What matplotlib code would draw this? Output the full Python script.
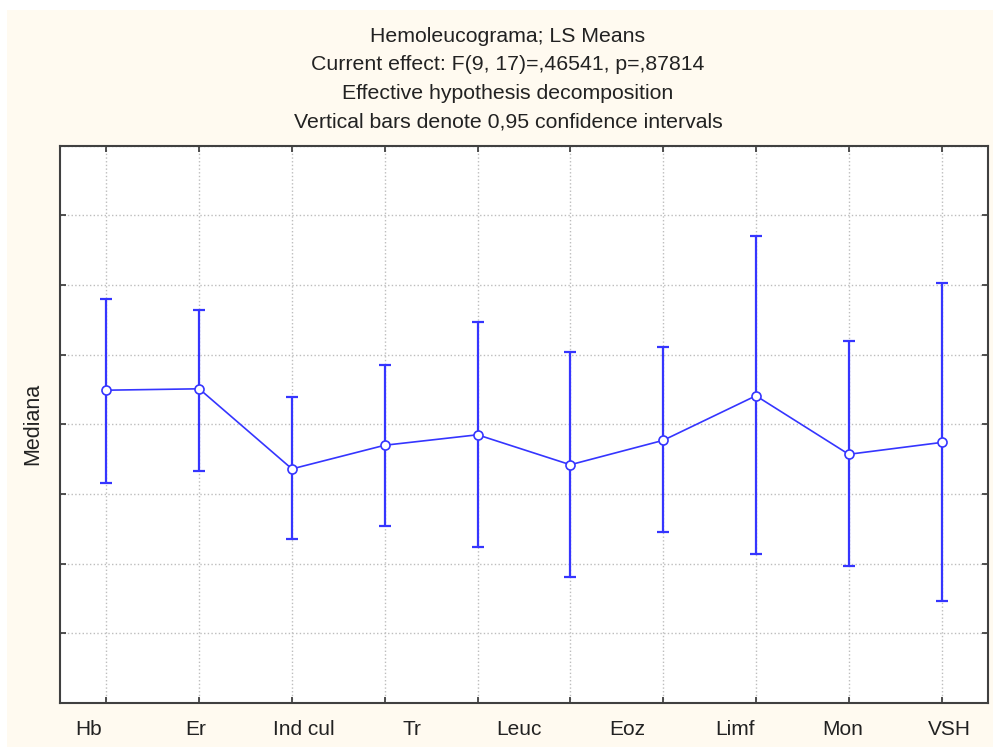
import matplotlib
matplotlib.use('Agg')
import matplotlib.pyplot as plt
import numpy as np
from matplotlib.patches import Rectangle

plt.rcParams['font.family'] = ['Liberation Sans', 'DejaVu Sans']

# 10 levels in the effect, 9 names printed under the axis
level_means = [4.49, 4.51, 3.36, 3.70, 3.85, 3.42, 3.77, 4.41, 3.57, 3.74]
ci_upper = [5.80, 5.64, 4.39, 4.85, 5.47, 5.04, 5.11, 6.70, 5.19, 6.03]
ci_lower = [3.16, 3.33, 2.35, 2.54, 2.24, 1.81, 2.45, 2.14, 1.96, 1.46]
x_labels = ["Hb", "Er", "Ind cul", "Tr", "Leuc", "Eoz", "Limf", "Mon", "VSH"]
title_lines = ["Hemoleucograma; LS Means",
               "Current effect: F(9, 17)=,46541, p=,87814",
               "Effective hypothesis decomposition",
               "Vertical bars denote 0,95 confidence intervals"]

BLUE = '#3535ff'

fig = plt.figure(figsize=(9.93, 7.47), dpi=100)
fig.patch.set_facecolor('white')
fig.patches.append(Rectangle((0.007, 0), 0.993, 0.9866, transform=fig.transFigure,
                             facecolor='#fffaf0', edgecolor='none', zorder=-10))

ax = fig.add_axes([0.0604, 0.0589, 0.9345, 0.7461])
ax.set_facecolor('white')

x = np.arange(len(level_means))
means = np.array(level_means)
yerr = [means - np.array(ci_lower), np.array(ci_upper) - means]

ax.errorbar(x, means, yerr=yerr, fmt='none', ecolor=BLUE, elinewidth=1.6,
            capsize=4, capthick=1.6, zorder=3)
ax.plot(x, means, color=BLUE, lw=1.2, marker='o', markersize=6.5,
        markerfacecolor='white', markeredgecolor=BLUE, markeredgewidth=1.2, zorder=4)

ax.set_xlim(-0.5, len(x) - 0.5)
ax.set_ylim(0, 8)
ax.set_xticks(x)
ax.set_xticklabels([])
ax.set_yticks(np.arange(0, 9))
ax.set_yticklabels([])

# names spread evenly under the axis (as the original program does)
label_pos = np.linspace(-0.194, 9.09, len(x_labels))
ax.set_xticks(label_pos, minor=True)
ax.set_xticklabels(x_labels, minor=True, fontsize=15, color='#222222')
ax.tick_params(axis='x', which='minor', length=0, pad=12)

ax.tick_params(axis='both', which='major', direction='in', length=4, width=1.2,
               color='#333333', top=True, right=True)
ax.grid(True, which='major', linestyle=':', color='#bdbdbd', linewidth=1)
for s in ax.spines.values():
    s.set_color('#404040')
    s.set_linewidth(1.5)

ax.set_ylabel("Mediana", fontsize=15.5, color='#222222')
ax.yaxis.set_label_coords(-0.018, 0.5)

ys = [0.951, 0.913, 0.875, 0.837]
for line, y in zip(title_lines, ys):
    fig.text(0.5116, y, line, ha='center', va='center', fontsize=15.3, color='#222222')

plt.savefig('out.png', dpi=100)
